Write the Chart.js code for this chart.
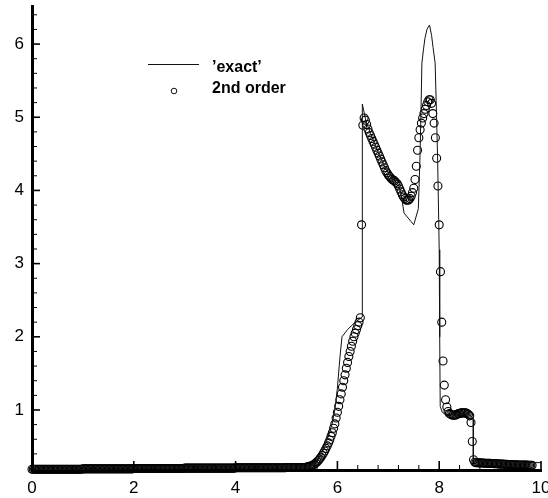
<!DOCTYPE html>
<html>
<head>
<meta charset="utf-8">
<script src="https://cdn.jsdelivr.net/npm/chart.js@4.4.1/dist/chart.umd.min.js"></script>
<style>
  html, body { margin: 0; padding: 0; background: #fff; }
  canvas { display: block; }
</style>
</head>
<body>
<canvas id="chart" width="548" height="498"></canvas>
<script>
// reference ("exact") profile, drawn as a polyline
const exactX = [0, 1, 2, 3, 4, 5, 5.4, 5.5, 5.6, 5.7, 5.75, 5.83, 5.9, 5.95, 6.0, 6.05, 6.09, 6.2, 6.35, 6.49,
  6.49, 6.56, 6.65, 6.8, 6.95, 7.1, 7.2, 7.25, 7.31, 7.5, 7.59, 7.62, 7.64, 7.66, 7.69, 7.72, 7.76, 7.81, 7.85, 7.88,
  7.92, 7.94, 7.97, 7.99, 8.0, 8.01, 8.02, 8.06, 8.12, 8.35, 8.54, 8.64, 8.67, 8.67, 10];
const exactY = [0.185, 0.19, 0.195, 0.2, 0.205, 0.21, 0.22, 0.24, 0.3, 0.42, 0.5, 0.66, 0.82, 1.0, 1.3, 1.72, 2.0, 2.1, 2.2, 2.27,
  5.18, 4.95, 4.78, 4.52, 4.29, 4.15, 4.08, 3.95, 3.69, 3.53, 3.75, 4.4, 5.0, 5.74, 5.92, 6.08, 6.2, 6.26, 6.12, 5.95,
  5.74, 5.23, 4.4, 3.6, 3.19, 2.0, 1.05, 0.97, 0.94, 0.93, 0.95, 0.91, 0.88, 0.3, 0.28];

// 2nd order solution, one value per cell, cells 0.025 apart starting at x = 0
const cellStart = 0;
const cellSize = 0.025;
const secondOrder = [
  // 0.0
  0.19, 0.19, 0.19, 0.19, 0.19, 0.19, 0.19, 0.19, 0.19, 0.19, 0.19, 0.19, 0.19, 0.19, 0.19, 0.19, 0.19, 0.19, 0.19, 0.19,
  // 0.5
  0.19, 0.19, 0.19, 0.19, 0.19, 0.19, 0.19, 0.19, 0.19, 0.19, 0.19, 0.19, 0.19, 0.19, 0.19, 0.19, 0.19, 0.19, 0.19, 0.19,
  // 1.0
  0.195, 0.195, 0.195, 0.195, 0.195, 0.195, 0.195, 0.195, 0.195, 0.195, 0.195, 0.195, 0.195, 0.195, 0.195, 0.195, 0.195, 0.195, 0.195, 0.195,
  // 1.5
  0.195, 0.195, 0.195, 0.195, 0.195, 0.195, 0.195, 0.195, 0.195, 0.195, 0.195, 0.195, 0.195, 0.195, 0.195, 0.195, 0.195, 0.195, 0.195, 0.195,
  // 2.0
  0.2, 0.2, 0.2, 0.2, 0.2, 0.2, 0.2, 0.2, 0.2, 0.2, 0.2, 0.2, 0.2, 0.2, 0.2, 0.2, 0.2, 0.2, 0.2, 0.2,
  // 2.5
  0.2, 0.2, 0.2, 0.2, 0.2, 0.2, 0.2, 0.2, 0.2, 0.2, 0.2, 0.2, 0.2, 0.2, 0.2, 0.2, 0.2, 0.2, 0.2, 0.2,
  // 3.0
  0.205, 0.205, 0.205, 0.205, 0.205, 0.205, 0.205, 0.205, 0.205, 0.205, 0.205, 0.205, 0.205, 0.205, 0.205, 0.205, 0.205, 0.205, 0.205, 0.205,
  // 3.5
  0.205, 0.205, 0.205, 0.205, 0.205, 0.205, 0.205, 0.205, 0.205, 0.205, 0.205, 0.205, 0.205, 0.205, 0.205, 0.205, 0.205, 0.205, 0.205, 0.205,
  // 4.0
  0.21, 0.21, 0.21, 0.21, 0.21, 0.21, 0.21, 0.21, 0.21, 0.21, 0.21, 0.21, 0.21, 0.21, 0.21, 0.21, 0.21, 0.21, 0.21, 0.21,
  // 4.5
  0.21, 0.21, 0.21, 0.21, 0.21, 0.21, 0.21, 0.21, 0.21, 0.21, 0.21, 0.21, 0.21, 0.21, 0.21, 0.21, 0.21, 0.21, 0.21, 0.21,
  // 5.0
  0.215, 0.215, 0.215, 0.215, 0.215, 0.215, 0.215, 0.215, 0.215, 0.215, 0.215, 0.215, 0.215, 0.215, 0.215, 0.218, 0.22, 0.225, 0.23, 0.235,
  // 5.5
  0.24, 0.25, 0.26, 0.275, 0.29, 0.31, 0.33, 0.355, 0.38, 0.41, 0.44, 0.475, 0.51, 0.55, 0.59, 0.64, 0.69, 0.75, 0.81, 0.89,
  // 6.0
  0.97, 1.05, 1.14, 1.22, 1.31, 1.40, 1.48, 1.57, 1.65, 1.73, 1.80, 1.87, 1.94, 2.00, 2.05, 2.10, 2.15, 2.20, 2.26, 3.53,
  // 6.5
  4.89, 4.99, 4.96, 4.90, 4.84, 4.79, 4.75, 4.71, 4.67, 4.63, 4.59, 4.55, 4.51, 4.47, 4.43, 4.39, 4.35, 4.31, 4.27, 4.24,
  // 7.0
  4.21, 4.19, 4.17, 4.15, 4.14, 4.13, 4.11, 4.09, 4.06, 4.02, 3.98, 3.94, 3.91, 3.89, 3.87, 3.865, 3.87, 3.89, 3.92, 3.97,
  // 7.5
  4.03, 4.15, 4.33, 4.55, 4.72, 4.83, 4.92, 4.99, 5.05, 5.11, 5.16, 5.21, 5.24, 5.24, 5.19, 5.05, 4.92, 4.72, 4.44, 4.06,
  // 8.0
  3.53, 2.89, 2.20, 1.67, 1.34, 1.14, 1.04, 0.98, 0.95, 0.94, 0.93, 0.93, 0.93, 0.93, 0.94, 0.95, 0.95, 0.96, 0.96, 0.96,
  // 8.5
  0.96, 0.96, 0.95, 0.94, 0.92, 0.83, 0.57, 0.32, 0.285, 0.28, 0.28, 0.278, 0.277, 0.276, 0.275, 0.274, 0.273, 0.272, 0.271, 0.27,
  // 9.0
  0.27, 0.269, 0.268, 0.267, 0.266, 0.265, 0.264, 0.263, 0.262, 0.261, 0.26, 0.259, 0.258, 0.257, 0.256, 0.255, 0.254, 0.253, 0.252, 0.251,
  // 9.5
  0.25, 0.25, 0.249, 0.249, 0.248, 0.248, 0.247, 0.247, 0.246, 0.246, 0.245, 0.245, 0.244, 0.244
];

const xTicks = [0, 2, 4, 6, 8, 10];
const yTicks = [1, 2, 3, 4, 5, 6];

const labelFont = { family: "'Liberation Sans', Arial, Helvetica, sans-serif", size: 17 };
const legendFont = "bold 16px 'Liberation Sans', Arial, Helvetica, sans-serif";

// tecplot-style tick marks that point into the plot
const innerTicks = {
  id: 'innerTicks',
  afterDraw(chart) {
    const { ctx, chartArea: area, scales: { x, y } } = chart;
    ctx.save();
    ctx.strokeStyle = '#000';

    const tickX = (v, len, w) => {
      const px = x.getPixelForValue(v);
      ctx.lineWidth = w;
      ctx.beginPath();
      ctx.moveTo(px, area.bottom);
      ctx.lineTo(px, area.bottom - len);
      ctx.stroke();
    };
    const tickY = (v, len, w) => {
      const py = y.getPixelForValue(v);
      ctx.lineWidth = w;
      ctx.beginPath();
      ctx.moveTo(area.left, py);
      ctx.lineTo(area.left + len, py);
      ctx.stroke();
    };

    for (let v = 0.4; v < 10; v += 0.4) {
      if (Math.abs(v / 2 - Math.round(v / 2)) > 1e-6) tickX(v, 5, 1);
    }
    xTicks.forEach(v => tickX(v, 9, 1.6));

    for (let v = 0.4; v < 6.5; v += 0.2) {
      if (Math.abs(v - Math.round(v)) > 1e-6) tickY(v, 5, 1);
    }
    yTicks.forEach(v => tickY(v, 8, 1.6));
    ctx.restore();
  }
};

// legend box in the upper left part of the plot
const legendBox = {
  id: 'legendBox',
  afterDraw(chart) {
    const ctx = chart.ctx;
    ctx.save();
    ctx.strokeStyle = '#111';
    ctx.lineWidth = 1;
    ctx.beginPath();
    ctx.moveTo(148, 64.5);
    ctx.lineTo(199, 64.5);
    ctx.stroke();

    ctx.beginPath();
    ctx.arc(174, 91, 2.8, 0, Math.PI * 2);
    ctx.stroke();

    ctx.fillStyle = '#000';
    ctx.font = legendFont;
    ctx.textBaseline = 'alphabetic';
    ctx.fillText(chart.data.datasets[0].label, 212, 72);
    ctx.fillText(chart.data.datasets[1].label, 212, 93);
    ctx.restore();
  }
};

new Chart(document.getElementById('chart'), {
  type: 'scatter',
  data: {
    datasets: [
      {
        label: '\u2019exact\u2019',
        data: exactX.map((x, i) => ({ x: x, y: exactY[i] })),
        showLine: true,
        pointRadius: 0,
        borderColor: '#111',
        borderWidth: 1,
        tension: 0
      },
      {
        label: '2nd order',
        data: secondOrder.map((v, i) => ({ x: cellStart + i * cellSize, y: v })),
        showLine: false,
        pointStyle: 'circle',
        pointRadius: 4,
        borderWidth: 1.1,
        borderColor: '#000',
        backgroundColor: 'rgba(0,0,0,0)',
        clip: false
      }
    ]
  },
  options: {
    responsive: false,
    animation: false,
    devicePixelRatio: 1,
    layout: { padding: { top: 6, right: 7, left: 0, bottom: 0 } },
    plugins: { legend: { display: false }, tooltip: { enabled: false } },
    scales: {
      x: {
        type: 'linear',
        min: 0,
        max: 10,
        afterBuildTicks: s => { s.ticks = xTicks.map(v => ({ value: v })); },
        afterFit: s => { s.height = 28; s.paddingLeft = 0; s.paddingRight = 0; },
        grid: { drawOnChartArea: false, drawTicks: false },
        border: { display: true, color: '#000', width: 3 },
        ticks: { font: labelFont, color: '#000', padding: 8, maxRotation: 0, autoSkip: false }
      },
      y: {
        type: 'linear',
        min: 0.18,
        max: 6.52,
        afterBuildTicks: s => { s.ticks = yTicks.map(v => ({ value: v })); },
        afterFit: s => { s.width = 32; s.paddingTop = 0; s.paddingBottom = 0; },
        grid: { drawOnChartArea: false, drawTicks: false },
        border: { display: true, color: '#000', width: 3 },
        ticks: { font: labelFont, color: '#000', padding: 8, autoSkip: false }
      }
    }
  },
  plugins: [innerTicks, legendBox]
});
</script>
</body>
</html>
